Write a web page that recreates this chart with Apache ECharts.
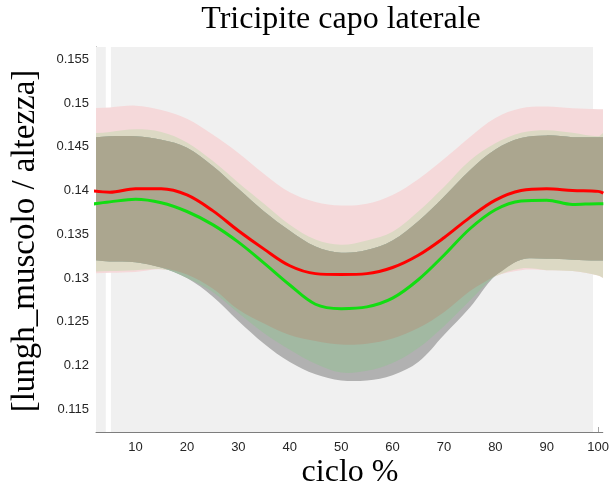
<!DOCTYPE html>
<html>
<head>
<meta charset="utf-8">
<script src="https://cdn.jsdelivr.net/npm/echarts@6/dist/echarts.min.js"></script>
<style>
  html, body { margin: 0; padding: 0; background: #ffffff; }
  #chart { width: 612px; height: 494px; }
</style>
</head>
<body>
<div id="chart"></div>
<script>
// Percent of the movement cycle at which each profile is sampled
const cicli = [1, 5, 10, 15, 20, 25, 30, 35, 40, 45, 50, 55, 60, 65, 70, 75, 80, 85, 90, 95, 100, 101];

// Mean normalised muscle length, red group
const mediaRossa = [0.1400, 0.1398, 0.1402, 0.1402, 0.1395, 0.1377, 0.1354, 0.1333, 0.1314, 0.1305, 0.1304,
                    0.1305, 0.1312, 0.1326, 0.1346, 0.1369, 0.1389, 0.1400, 0.1402, 0.1400, 0.1399, 0.1397];
// Mean normalised muscle length, green group
const mediaVerde = [0.1384, 0.1387, 0.1390, 0.1386, 0.1376, 0.1361, 0.1341, 0.1317, 0.1292, 0.1270, 0.1265,
                    0.1267, 0.1277, 0.1298, 0.1326, 0.1356, 0.1378, 0.1388, 0.1389, 0.1384, 0.1385, 0.1385];

// Dispersion band of the red group
const rossoSup = [0.1494, 0.1495, 0.1497, 0.1492, 0.1482, 0.1464, 0.1443, 0.1419, 0.1398, 0.1387, 0.1383,
                  0.1385, 0.1395, 0.1413, 0.1436, 0.1461, 0.1483, 0.1494, 0.1496, 0.1494, 0.1493, 0.1493];
const rossoInf = [0.1305, 0.1306, 0.1307, 0.1310, 0.1304, 0.1288, 0.1264, 0.1248, 0.1235, 0.1228, 0.1224,
                  0.1225, 0.1231, 0.1243, 0.1261, 0.1285, 0.1302, 0.1309, 0.1309, 0.1308, 0.1303, 0.1300];

// Dispersion band of the green group
const verdeSup = [0.1465, 0.1467, 0.1470, 0.1467, 0.1455, 0.1434, 0.1409, 0.1385, 0.1361, 0.1344, 0.1338,
                  0.1343, 0.1353, 0.1376, 0.1404, 0.1434, 0.1454, 0.1466, 0.1469, 0.1466, 0.1462, 0.1466];
const verdeInf = [0.1307, 0.1308, 0.1309, 0.1309, 0.1300, 0.1284, 0.1260, 0.1237, 0.1218, 0.1202, 0.1192,
                  0.1194, 0.1203, 0.1220, 0.1245, 0.1274, 0.1300, 0.1311, 0.1309, 0.1307, 0.1302, 0.1300];

// Grey range band
const grigioSup = [0.1460, 0.1462, 0.1462, 0.1458, 0.1449, 0.1428, 0.1402, 0.1376, 0.1354, 0.1336, 0.1329,
                   0.1332, 0.1343, 0.1365, 0.1393, 0.1423, 0.1447, 0.1460, 0.1463, 0.1461, 0.1461, 0.1461];
const grigioInf = [0.1321, 0.1319, 0.1318, 0.1312, 0.1300, 0.1279, 0.1251, 0.1225, 0.1204, 0.1190, 0.1183,
                   0.1183, 0.1189, 0.1204, 0.1235, 0.1266, 0.1303, 0.1321, 0.1322, 0.1321, 0.1320, 0.1320];

// Axis ticks
const tickX = [10, 20, 30, 40, 50, 60, 70, 80, 90, 100];
const tickY = [0.115, 0.12, 0.125, 0.13, 0.135, 0.14, 0.145, 0.15, 0.155];

// Pointwise overlap of several bands
function overlap(bands) {
  const lo = cicli.map((_, i) => Math.max(...bands.map(b => b[0][i])));
  const hi = cicli.map((_, i) => Math.min(...bands.map(b => b[1][i])));
  return [lo, cicli.map((_, i) => Math.max(lo[i], hi[i]))];
}

const R = [rossoInf, rossoSup];
const V = [verdeInf, verdeSup];
const G = [grigioInf, grigioSup];

// A filled band between lo and hi as one smoothed closed outline.
// The end vertices are doubled so the smoothing keeps square ends.
function band(lo, hi, color, z) {
  return {
    type: 'custom', silent: true, clip: true, z: z,
    data: [0],
    renderItem: function (params, api) {
      const top = cicli.map((x, i) => api.coord([x, hi[i]]));
      const bottom = cicli.map((x, i) => api.coord([x, lo[i]])).reverse();
      const n = top.length;
      const pts = [top[0], ...top, top[n - 1], bottom[0], ...bottom, bottom[n - 1]];
      return {
        type: 'polygon',
        shape: { points: pts, smooth: 0.35 },
        style: { fill: color, stroke: null }
      };
    }
  };
}

const rv = overlap([R, V]);
const vg = overlap([V, G]);
const rvg = overlap([R, V, G]);

const axisGrey = '#7d7d7d';
const labelColor = '#262626';

const series = [
  // plot-area shading
  {
    type: 'line', symbol: 'none', silent: true, z: 0,
    lineStyle: { opacity: 0 },
    data: cicli.map((x, i) => [x, mediaRossa[i]]),
    markArea: {
      silent: true,
      itemStyle: { color: '#f0f0f0' },
      data: [
        [{ xAxis: 2.3 }, { xAxis: 4.2 }],
        [{ xAxis: 5.2 }, { xAxis: 99.0 }]
      ]
    }
  },
  band(rossoInf, rossoSup, '#f5d9da', 1),
  band(rv[0], rv[1], '#dcd9c4', 2),
  band(grigioInf, grigioSup, '#b1b1b1', 3),
  band(vg[0], vg[1], '#a2b9a2', 4),
  band(rvg[0], rvg[1], '#aba68f', 5),
  // lighter strips where the shading is interrupted
  {
    type: 'line', symbol: 'none', silent: true, z: 6,
    lineStyle: { opacity: 0 },
    data: cicli.map((x, i) => [x, mediaVerde[i]]),
    markArea: {
      silent: true,
      itemStyle: { color: 'rgba(255,255,255,0.3)' },
      data: [
        [{ xAxis: 4.2 }, { xAxis: 5.2 }],
        [{ xAxis: 99.0 }, { xAxis: 100.9 }]
      ]
    }
  },
  {
    type: 'line', name: 'verde', smooth: 0.35, symbol: 'none', z: 10,
    lineStyle: { color: '#12dd12', width: 3 },
    data: cicli.map((x, i) => [x, mediaVerde[i]])
  },
  {
    type: 'line', name: 'rosso', smooth: 0.35, symbol: 'none', z: 11,
    lineStyle: { color: '#ff0000', width: 3 },
    data: cicli.map((x, i) => [x, mediaRossa[i]])
  }
];

const chart = echarts.init(document.getElementById('chart'), null, { renderer: 'canvas' });
chart.setOption({
  animation: false,
  backgroundColor: '#ffffff',
  grid: { left: 96, top: 47, right: 7, bottom: 62, containLabel: false },
  xAxis: {
    type: 'value', min: 2.3, max: 100.9,
    axisLine: { show: true, lineStyle: { color: axisGrey, width: 1 } },
    axisTick: { show: true, inside: true, length: 5, customValues: tickX, lineStyle: { color: axisGrey } },
    axisLabel: {
      customValues: tickX, color: labelColor, fontSize: 13,
      fontFamily: '"Liberation Sans", Arial, sans-serif', margin: 9
    },
    splitLine: { show: false }
  },
  yAxis: {
    type: 'value', min: 0.1124, max: 0.1564,
    axisLine: { show: true, onZero: false, lineStyle: { color: axisGrey, width: 1 } },
    axisTick: { show: true, inside: true, length: 5, customValues: tickY, lineStyle: { color: axisGrey } },
    axisLabel: {
      customValues: tickY, color: labelColor, fontSize: 13,
      fontFamily: '"Liberation Sans", Arial, sans-serif', margin: 7,
      formatter: v => String(+Number(v).toFixed(3))
    },
    splitLine: { show: false }
  },
  graphic: [
    {
      type: 'text', x: 341, y: 20, silent: true,
      style: {
        text: 'Tricipite capo laterale', font: '32px "Liberation Serif"', fill: '#000000',
        align: 'center', verticalAlign: 'middle', textAlign: 'center', textVerticalAlign: 'middle'
      }
    },
    {
      type: 'text', x: 350, y: 473, silent: true,
      style: {
        text: 'ciclo %', font: '32px "Liberation Serif"', fill: '#000000',
        align: 'center', verticalAlign: 'middle', textAlign: 'center', textVerticalAlign: 'middle'
      }
    },
    {
      type: 'text', x: 25, y: 241, rotation: Math.PI / 2, silent: true,
      style: {
        text: '[lungh_muscolo / altezza]', font: '33px "Liberation Serif"', fill: '#000000',
        align: 'center', verticalAlign: 'middle', textAlign: 'center', textVerticalAlign: 'middle'
      }
    }
  ],
  series: series
});
</script>
</body>
</html>
